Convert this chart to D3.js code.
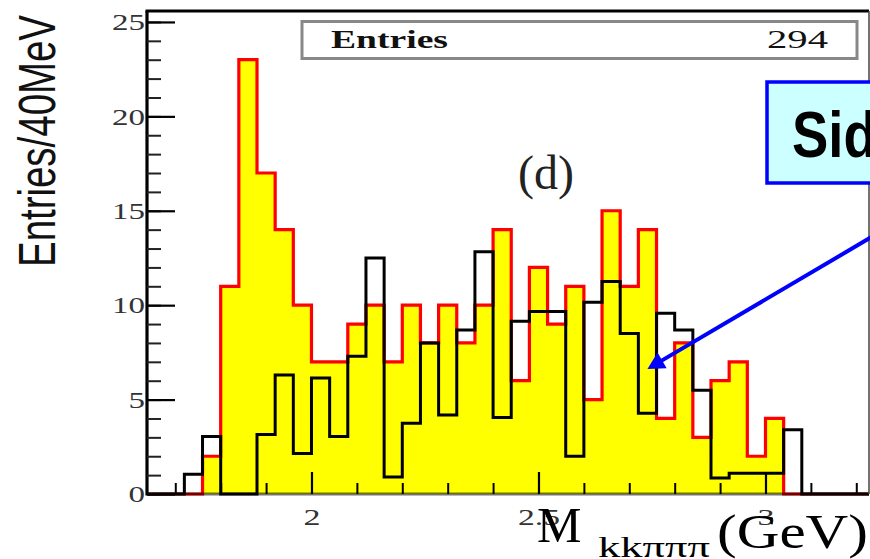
<!DOCTYPE html>
<html>
<head>
<meta charset="utf-8">
<script src="https://cdn.jsdelivr.net/npm/d3@7/dist/d3.min.js"></script>
<style>
  html, body { margin: 0; padding: 0; background: #fff; }
  svg { display: block; }
</style>
</head>
<body>
<svg id="chart" width="870" height="559"></svg>
<script>
// Invariant mass histogram, 40 MeV bins (lower bin edges, GeV)
const binLow = [1.64, 1.68, 1.72, 1.76, 1.80, 1.84, 1.88, 1.92, 1.96, 2.00,
                2.04, 2.08, 2.12, 2.16, 2.20, 2.24, 2.28, 2.32, 2.36, 2.40,
                2.44, 2.48, 2.52, 2.56, 2.60, 2.64, 2.68, 2.72, 2.76, 2.80,
                2.84, 2.88, 2.92, 2.96, 3.00, 3.04, 3.08, 3.12, 3.16, 3.20];
const binWidth = 0.04;

// Signal-region entries per bin (filled histogram, 294 entries)
const signalCounts = [0, 0, 0, 2, 11, 23, 17, 14, 10, 7,
                      7, 9, 10, 7, 10, 8, 10, 8, 10, 14,
                      6, 12, 9, 11, 5, 15, 11, 14, 4, 8,
                      3, 6, 7, 2, 4, 0, 0, 0, 0, 0];

// Normalised sideband entries per bin (open histogram)
const sidebandCounts = [0, 0, 1.05, 3.05, 0, 0, 3.15, 6.3, 2.15, 6.15,
                        3.05, 7.3, 12.5, 0.9, 3.75, 8.0, 4.18, 8.68, 12.83, 4.05,
                        9.15, 9.66, 9.66, 2.0, 10.15, 11.25, 8.5, 4.27, 9.57, 8.69,
                        5.5, 0.85, 1.1, 1.1, 1.1, 3.4, 0, 0, 0, 0];

const xMajorTicks = [2, 2.5, 3];
const xTickLabels = ["2", "2.5", "3"];
const xMinorTicks = [1.7, 1.8, 1.9, 2.0, 2.1, 2.2, 2.3, 2.4, 2.5, 2.6, 2.7, 2.8, 2.9, 3.0, 3.1, 3.2];
const yMajorTicks = [0, 5, 10, 15, 20, 25];
const yMinorTicks = d3.range(0, 26);
const entries = 294;

// annotation arrow (data coordinates): tail outside frame, head on the sideband
const arrowTail = [3.24, 13.7];
const arrowHead = [2.74, 6.62];

const svg = d3.select("#chart");
const W = 870, H = 559;
const plot = { left: 147, right: 869, top: 11, bottom: 494 };
const serif = "'Liberation Serif', 'Times New Roman', serif";
const sans = "'Liberation Sans', Arial, Helvetica, sans-serif";

svg.append("rect").attr("width", W).attr("height", H).attr("fill", "#fff");

const x = d3.scaleLinear().domain([1.6377, 3.228]).range([plot.left, plot.right]);
const y = d3.scaleLinear().domain([0, 25.58]).range([plot.bottom, plot.top]);

svg.append("defs").append("clipPath").attr("id", "plotClip")
  .append("rect")
  .attr("x", plot.left).attr("y", plot.top - 2)
  .attr("width", plot.right - plot.left).attr("height", plot.bottom - plot.top + 5);

// step points: each bin contributes its low edge; close with the last upper edge
function stepPoints(counts) {
  const pts = binLow.map((lo, i) => [lo, counts[i]]);
  pts.push([binLow[binLow.length - 1] + binWidth, counts[counts.length - 1]]);
  return pts;
}

const g = svg.append("g").attr("clip-path", "url(#plotClip)");

const area = d3.area()
  .x(d => x(d[0])).y0(y(0)).y1(d => y(d[1]))
  .curve(d3.curveStepAfter);
const line = d3.line()
  .x(d => x(d[0])).y(d => y(d[1]))
  .curve(d3.curveStepAfter);

const sigPts = stepPoints(signalCounts);
const sbPts = stepPoints(sidebandCounts);

g.append("path").datum(sigPts)
  .attr("d", area).attr("fill", "#ffff00").attr("stroke", "none");
g.append("path").datum(sigPts)
  .attr("d", line).attr("fill", "none")
  .attr("stroke", "#ff0000").attr("stroke-width", 3.2);
g.append("path").datum(sbPts)
  .attr("d", line).attr("fill", "none")
  .attr("stroke", "#000").attr("stroke-width", 3);

// frame lines
svg.append("line")
  .attr("x1", plot.left).attr("x2", plot.right)
  .attr("y1", plot.bottom).attr("y2", plot.bottom)
  .attr("stroke", "#000").attr("stroke-opacity", 0.55).attr("stroke-width", 3);
svg.append("line")
  .attr("x1", plot.left - 1.5).attr("x2", plot.right)
  .attr("y1", plot.top).attr("y2", plot.top)
  .attr("stroke", "#000").attr("stroke-width", 3);
svg.append("line")
  .attr("x1", plot.right).attr("x2", plot.right)
  .attr("y1", plot.top).attr("y2", plot.bottom)
  .attr("stroke", "#444").attr("stroke-width", 1.5);
svg.append("line")
  .attr("x1", plot.left).attr("x2", plot.left)
  .attr("y1", plot.top).attr("y2", plot.bottom + 1.5)
  .attr("stroke", "#000").attr("stroke-width", 3.2);

// x axis: inward ticks
const xMinorAxis = d3.axisBottom(x).tickValues(xMinorTicks).tickSize(-11).tickFormat("");
const xMajorAxis = d3.axisBottom(x).tickValues(xMajorTicks).tickSize(-22).tickPadding(14)
  .tickFormat((d, i) => xTickLabels[i]);

svg.append("g").attr("transform", `translate(0,${plot.bottom})`).call(xMinorAxis)
  .call(a => a.select(".domain").remove())
  .selectAll("line").attr("stroke", "#000").attr("stroke-width", 2);
const xa = svg.append("g").attr("transform", `translate(0,${plot.bottom})`).call(xMajorAxis)
  .call(a => a.select(".domain").remove());
xa.selectAll("line").attr("stroke", "#000").attr("stroke-width", 2.2);
xa.selectAll("text")
  .attr("font-family", serif).attr("font-size", 24).attr("fill", "#333")
  .attr("textLength", d => d === 2.5 ? 42 : 17)
  .attr("lengthAdjust", "spacingAndGlyphs");

// y axis: inward ticks
const yMinorAxis = d3.axisLeft(y).tickValues(yMinorTicks).tickSize(-14).tickFormat("");
const yMajorAxis = d3.axisLeft(y).tickValues(yMajorTicks).tickSize(-28).tickPadding(2)
  .tickFormat(d3.format("d"));

svg.append("g").attr("transform", `translate(${plot.left},0)`).call(yMinorAxis)
  .call(a => a.select(".domain").remove())
  .selectAll("line").attr("stroke", "#222").attr("stroke-width", 2);
const ya = svg.append("g").attr("transform", `translate(${plot.left},0)`).call(yMajorAxis)
  .call(a => a.select(".domain").remove());
ya.selectAll("line").attr("stroke", "#000").attr("stroke-width", 2.2);
ya.selectAll("text")
  .attr("font-family", serif).attr("font-size", 24).attr("fill", "#333")
  .attr("textLength", d => String(d).length * 16.5)
  .attr("lengthAdjust", "spacingAndGlyphs");

// y axis title
svg.append("text")
  .attr("transform", "translate(55,267) rotate(-90)")
  .attr("font-family", sans).attr("font-size", 52).attr("fill", "#111")
  .attr("textLength", 252).attr("lengthAdjust", "spacingAndGlyphs")
  .text("Entries/40MeV");

// x axis title
svg.append("text")
  .attr("x", 537).attr("y", 542)
  .attr("font-family", serif).attr("font-size", 50).attr("fill", "#000")
  .text("M");
svg.append("text")
  .attr("x", 598).attr("y", 557)
  .attr("font-family", serif).attr("font-size", 30).attr("fill", "#000")
  .attr("textLength", 112).attr("lengthAdjust", "spacingAndGlyphs")
  .text("kkπππ");
svg.append("text")
  .attr("x", 717).attr("y", 548)
  .attr("font-family", serif).attr("font-size", 48).attr("fill", "#000")
  .attr("textLength", 151).attr("lengthAdjust", "spacingAndGlyphs")
  .text("(GeV)");

// panel tag
svg.append("text")
  .attr("x", 546).attr("y", 189).attr("text-anchor", "middle")
  .attr("font-family", serif).attr("font-size", 48).attr("fill", "#222")
  .text("(d)");

// statistics box
svg.append("rect")
  .attr("x", 302).attr("y", 21.5).attr("width", 555).attr("height", 37)
  .attr("fill", "#fff").attr("stroke", "#888").attr("stroke-width", 3);
svg.append("text")
  .attr("x", 331).attr("y", 48)
  .attr("font-family", serif).attr("font-size", 25).attr("font-weight", "bold").attr("fill", "#111")
  .attr("textLength", 117).attr("lengthAdjust", "spacingAndGlyphs")
  .text("Entries");
svg.append("text")
  .attr("x", 767).attr("y", 48)
  .attr("font-family", serif).attr("font-size", 25).attr("fill", "#111")
  .attr("textLength", 61).attr("lengthAdjust", "spacingAndGlyphs")
  .text(String(entries));

// sideband annotation box
svg.append("rect")
  .attr("x", 767).attr("y", 82).attr("width", 200).attr("height", 101)
  .attr("fill", "#ccffff").attr("stroke", "#0000ff").attr("stroke-width", 3.5);
svg.append("text")
  .attr("x", 792).attr("y", 157)
  .attr("font-family", sans).attr("font-size", 64).attr("font-weight", "bold").attr("fill", "#000")
  .attr("textLength", 245).attr("lengthAdjust", "spacingAndGlyphs")
  .text("Sideband");

// arrow pointing at the sideband histogram
const ax0 = x(arrowTail[0]), ay0 = y(arrowTail[1]);
const ax1 = x(arrowHead[0]), ay1 = y(arrowHead[1]);
const len = Math.hypot(ax1 - ax0, ay1 - ay0);
const ux = (ax1 - ax0) / len, uy = (ay1 - ay0) / len;
const headLen = 17, headHalf = 9;
const bx = ax1 - ux * headLen, by = ay1 - uy * headLen;
svg.append("line")
  .attr("x1", ax0).attr("y1", ay0).attr("x2", bx + ux * 2).attr("y2", by + uy * 2)
  .attr("stroke", "#0000ff").attr("stroke-width", 4);
svg.append("path")
  .attr("d", `M${ax1},${ay1} L${bx - uy * headHalf},${by + ux * headHalf} L${bx + uy * headHalf},${by - ux * headHalf} Z`)
  .attr("fill", "#0000ff");
</script>
</body>
</html>
